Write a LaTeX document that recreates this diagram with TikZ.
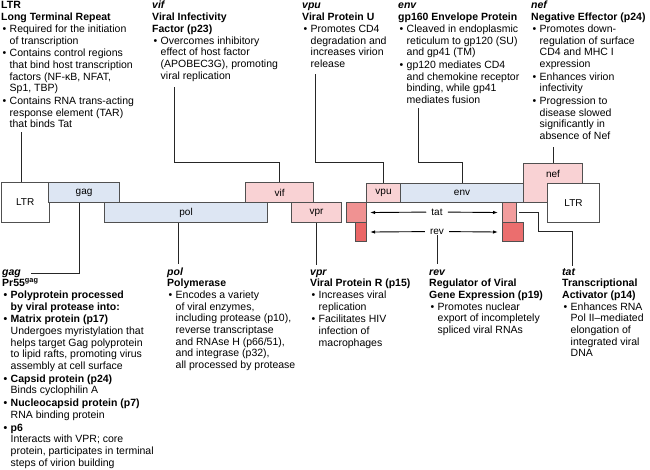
\documentclass[tikz,border=0pt]{standalone}
\usepackage{fontspec}
\setmainfont{Liberation Sans}
\usetikzlibrary{arrows.meta}
\usepackage{xcolor}
\definecolor{geneBlue}{RGB}{221,230,243}
\definecolor{genePink}{RGB}{249,210,212}
\definecolor{tatRed}{RGB}{240,146,146}
\definecolor{revRed}{RGB}{234,102,102}
\definecolor{boxGray}{RGB}{80,80,80}

\newcommand{\ghead}[1]{\multicolumn{2}{@{}l@{}}{\bfseries #1}}
\newcommand{\gbul}{\hspace{1.5pt}\textbullet}
\newenvironment{glist}{\begin{tabular}[t]{@{}p{8.5pt}@{}l@{}}}{\end{tabular}}

\begin{document}
\begin{tikzpicture}[x=1pt,y=-1pt,
    gene/.style={draw=boxGray,line width=1.1pt,anchor=north west,inner sep=0pt,font=\fontsize{10}{12}\selectfont},
    blk/.style={anchor=base west,inner sep=0pt,font=\fontsize{10.5}{11.7}\selectfont},
    lead/.style={draw=black!85,line width=0.9pt},
    span/.style={-{Latex[length=5pt,width=3.5pt]},line width=0.9pt}]

    \useasboundingbox (0,0) rectangle (650,470);

    % genome
    \node[gene,fill=white,minimum width=48,minimum height=40] (ltrL) at (0.6,182) {LTR};
    \node[gene,fill=geneBlue,minimum width=71,minimum height=20] (gag) at (48,182) {gag};
    \node[gene,fill=geneBlue,minimum width=163,minimum height=20] (pol) at (104,202) {pol};
    \node[gene,fill=genePink,minimum width=68,minimum height=20] (vif) at (245,182) {vif};
    \node[gene,fill=genePink,minimum width=50,minimum height=20] (vpr) at (291,202) {vpr};
    \node[gene,fill=tatRed,minimum width=20,minimum height=20] (tat1) at (346,202) {};
    \node[gene,fill=revRed,minimum width=11,minimum height=19] (rev1) at (355,222) {};
    \node[gene,fill=genePink,minimum width=34,minimum height=19] (vpu) at (366,183) {vpu};
    \node[gene,fill=geneBlue,minimum width=123,minimum height=19] (env) at (400,183) {env};
    \node[gene,fill=genePink,minimum width=59,minimum height=39,
        label={[anchor=north,yshift=-4pt,font=\fontsize{10}{12}\selectfont]north:nef}] (nef) at (523,163) {};
    \node[gene,fill=white,minimum width=52,minimum height=39] (ltrR) at (547,183) {LTR};
    \node[gene,fill=tatRed!90,minimum width=14,minimum height=20] (tat2) at (502,202) {};
    \node[gene,fill=revRed!95,minimum width=21,minimum height=19] (rev2) at (502,222) {};

    % tat and rev spans
    \node[font=\fontsize{10}{12}\selectfont,inner xsep=5pt,inner ysep=1pt] (tatlbl) at (437,212) {tat};
    \node[font=\fontsize{10}{12}\selectfont,inner xsep=5pt,inner ysep=1pt] (revlbl) at (437,231.5) {rev};
    \draw[span,shorten >=3pt] (tatlbl) -- (tat1.east);
    \draw[span,shorten >=4pt] (tatlbl) -- (tat2.west);
    \draw[span,shorten >=3pt] (revlbl) -- (rev1.east);
    \draw[span,shorten >=4pt] (revlbl) -- (rev2.west);

    % upper texts
    \node[blk] (ltrtxt) at (1,9) {\begin{glist}
        \ghead{LTR}\\
        \ghead{Long Terminal Repeat}\\
        \gbul & Required for the initiation\\
              & of transcription\\[1pt]
        \gbul & Contains control regions\\
              & that bind host transcription\\
              & factors (NF-κB, NFAT,\\
              & Sp1, TBP)\\[1pt]
        \gbul & Contains RNA trans-acting\\
              & response element (TAR)\\
              & that binds Tat
    \end{glist}};
    \node[blk] (viftxt) at (152,9) {\begin{glist}
        \ghead{\itshape vif}\\
        \ghead{Viral Infectivity}\\
        \ghead{Factor (p23)}\\
        \gbul & Overcomes inhibitory\\
              & effect of host factor\\
              & (APOBEC3G), promoting\\
              & viral replication
    \end{glist}};
    \node[blk] (vputxt) at (302,9) {\begin{glist}
        \ghead{\itshape vpu}\\
        \ghead{Viral Protein U}\\
        \gbul & Promotes CD4\\
              & degradation and\\
              & increases virion\\
              & release
    \end{glist}};
    \node[blk] (envtxt) at (398,9) {\begin{glist}
        \ghead{\itshape env}\\
        \ghead{gp160 Envelope Protein}\\
        \gbul & Cleaved in endoplasmic\\
              & reticulum to gp120 (SU)\\
              & and gp41 (TM)\\[1pt]
        \gbul & gp120 mediates CD4\\
              & and chemokine receptor\\
              & binding, while gp41\\
              & mediates fusion
    \end{glist}};
    \node[blk] (neftxt) at (531,9) {\begin{glist}
        \ghead{\itshape nef}\\
        \ghead{Negative Effector (p24)}\\
        \gbul & Promotes down-\\
              & regulation of surface\\
              & CD4 and MHC I\\
              & expression\\[1pt]
        \gbul & Enhances virion\\
              & infectivity\\[1pt]
        \gbul & Progression to\\
              & disease slowed\\
              & significantly in\\
              & absence of Nef
    \end{glist}};

    % lower texts
    \node[blk] (gagtxt) at (2,275) {\begin{glist}
        \ghead{\itshape gag}\\
        \ghead{Pr55\textsuperscript{gag}}\\
        \textbf{\gbul} & \textbf{Polyprotein processed}\\
              & \textbf{by viral protease into:}\\[1pt]
        \textbf{\gbul} & \textbf{Matrix protein (p17)}\\
              & Undergoes myristylation that\\
              & helps target Gag polyprotein\\
              & to lipid rafts, promoting virus\\
              & assembly at cell surface\\[1pt]
        \textbf{\gbul} & \textbf{Capsid protein (p24)}\\
              & Binds cyclophilin A\\[1pt]
        \textbf{\gbul} & \textbf{Nucleocapsid protein (p7)}\\
              & RNA binding protein\\[1pt]
        \textbf{\gbul} & \textbf{p6}\\
              & Interacts with VPR; core\\
              & protein, participates in terminal\\
              & steps of virion building
    \end{glist}};
    \node[blk] (poltxt) at (167,275) {\begin{glist}
        \ghead{\itshape pol}\\
        \ghead{Polymerase}\\
        \gbul & Encodes a variety\\
              & of viral enzymes,\\
              & including protease (p10),\\
              & reverse transcriptase\\
              & and RNAse H (p66/51),\\
              & and integrase (p32),\\
              & all processed by protease
    \end{glist}};
    \node[blk] (vprtxt) at (310,275) {\begin{glist}
        \ghead{\itshape vpr}\\
        \ghead{Viral Protein R (p15)}\\
        \gbul & Increases viral\\
              & replication\\[1pt]
        \gbul & Facilitates HIV\\
              & infection of\\
              & macrophages
    \end{glist}};
    \node[blk] (revtxt) at (429,275) {\begin{glist}
        \ghead{\itshape rev}\\
        \ghead{Regulator of Viral}\\
        \ghead{Gene Expression (p19)}\\
        \gbul & Promotes nuclear\\
              & export of incompletely\\
              & spliced viral RNAs
    \end{glist}};
    \node[blk] (tattxt) at (562,275) {\begin{glist}
        \ghead{\itshape tat}\\
        \ghead{Transcriptional}\\
        \ghead{Activator (p14)}\\
        \gbul & Enhances RNA\\
              & Pol II–mediated\\
              & elongation of\\
              & integrated viral\\
              & DNA
    \end{glist}};

    % leaders
    \coordinate (ltrend) at (21,132);
    \coordinate (vifend) at (174,87);
    \coordinate (vpuend) at (315,74);
    \coordinate (envend) at (418,108);
    \coordinate (gagend) at (31,273);
    \coordinate (polend) at (178,264);
    \coordinate (revend) at (437,264);
    \draw[lead] (ltrL.north -| ltrend) -- (ltrend);
    \draw[lead] (vif.north) -- ++(0,-20) -| (vifend);
    \draw[lead] (vpu.north) -- ++(0,-21) -| (vpuend);
    \draw[lead] (env.north) -- ++(0,-21) -| (envend);
    \draw[lead] (nef.north) -- ++(0,-16);
    \draw[lead] ([xshift=-4.5pt]gag.south) |- (gagend);
    \draw[lead] (pol.south -| polend) -- (polend);
    \draw[lead] (vpr.south) -- ++(0,42);
    \draw[lead] (revlbl.south) -- (revend);
    \draw[lead] ([xshift=2pt]tat2.east) -- ++(19,0) -- ++(0,19) -- ++(34,0) -- ++(0,34);
\end{tikzpicture}
\end{document}
